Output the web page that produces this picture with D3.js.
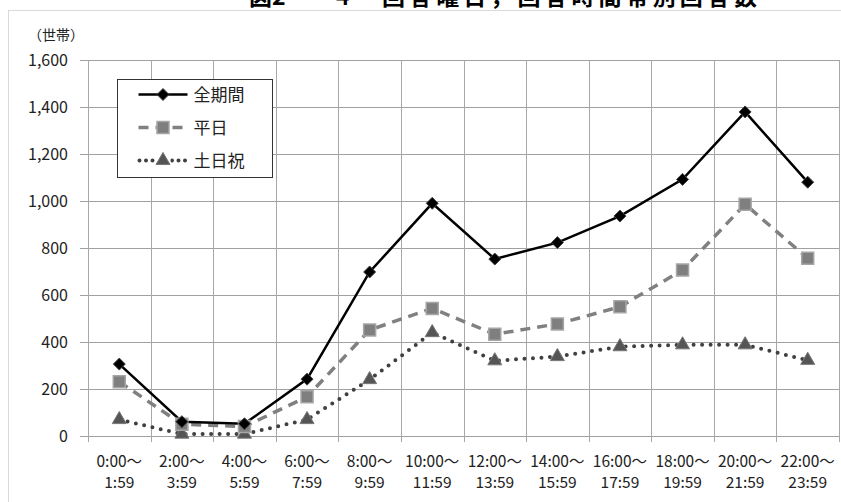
<!DOCTYPE html>
<html>
<head>
<meta charset="utf-8">
<script src="https://cdn.jsdelivr.net/npm/d3@7"></script>
<style>
  body { margin: 0; background: #fff; }
  svg text { font-family: "Noto Sans CJK JP", "Noto Sans", sans-serif; }
</style>
</head>
<body>
<div id="chart"></div>
<script>
// 回答時間帯別回答数
const categories = ['0:00～|1:59', '2:00～|3:59', '4:00～|5:59', '6:00～|7:59', '8:00～|9:59', '10:00～|11:59',
  '12:00～|13:59', '14:00～|15:59', '16:00～|17:59', '18:00～|19:59', '20:00～|21:59', '22:00～|23:59'];
const allDays = [306, 61, 52, 242, 698, 990, 753, 823, 936, 1092, 1379, 1080];
const weekdays = [231, 50, 40, 167, 451, 543, 433, 477, 550, 706, 986, 756];
const holidays = [70, 8, 8, 70, 240, 440, 320, 338, 380, 388, 388, 322];
const yTicks = [0, 200, 400, 600, 800, 1000, 1200, 1400, 1600];
const seriesNames = ['全期間', '平日', '土日祝'];

const W = 841, H = 502;
const margin = { top: 60, left: 88, right: 2, bottom: 66 };
const plotW = W - margin.left - margin.right;
const plotH = H - margin.top - margin.bottom;

const svg = d3.select('#chart').append('svg')
  .attr('width', W).attr('height', H);

// title (cut off at top)
const title = svg.append('text')
  .attr('y', 5)
  .style('font-size', '23px').style('font-weight', 'bold');
title.append('tspan').attr('x', 249).text('図2');
title.append('tspan').attr('x', 308).text('－');
title.append('tspan').attr('x', 336).text('4');
title.append('tspan').attr('x', 382).attr('textLength', 375).attr('lengthAdjust', 'spacing')
  .text('回答曜日，回答時間帯別回答数');

// outer frame
svg.append('rect')
  .attr('x', 8.5).attr('y', 10.5)
  .attr('width', W).attr('height', H)
  .attr('fill', 'none').attr('stroke', '#d9d9d9');

const g = svg.append('g').attr('transform', `translate(${margin.left},${margin.top})`);

const x = d3.scaleBand().domain(categories).range([0, plotW]);
const y = d3.scaleLinear().domain([0, 1600]).range([plotH, 0]);

// horizontal grid
g.append('g').selectAll('line').data(yTicks).join('line')
  .attr('x1', -8).attr('x2', plotW)
  .attr('y1', d => Math.round(y(d)) + 0.5).attr('y2', d => Math.round(y(d)) + 0.5)
  .attr('stroke', '#a0a0a0');

// vertical grid
const vx = categories.map(c => x(c)).concat([plotW]);
g.append('g').selectAll('line').data(vx).join('line')
  .attr('x1', d => Math.round(d) + 0.5).attr('x2', d => Math.round(d) + 0.5)
  .attr('y1', 0).attr('y2', plotH + 6)
  .attr('stroke', '#a8a8a8');

// y labels
g.append('g').selectAll('text').data(yTicks).join('text')
  .attr('x', -20).attr('y', d => y(d) + 5.5)
  .attr('text-anchor', 'end')
  .style('font-size', '16px').attr('fill', '#222')
  .text(d => d3.format(',')(d));

svg.append('text')
  .attr('x', 28).attr('y', 40)
  .style('font-size', '14px').attr('fill', '#222')
  .text('（世帯）');

// x labels (two lines each)
[0, 1].forEach(k => {
  g.append('g').selectAll('text').data(categories).join('text')
    .attr('x', d => x(d) + x.bandwidth() / 2)
    .attr('y', plotH + 31 + k * 21)
    .attr('text-anchor', 'middle')
    .style('font-size', '15.5px').attr('fill', '#222')
    .text(d => d.split('|')[k]);
});

const cx = i => x(categories[i]) + x.bandwidth() / 2;
const line = d3.line().x((d, i) => cx(i)).y(d => y(d));

// 土日祝
g.append('path').datum(holidays).attr('d', line)
  .attr('fill', 'none').attr('stroke', '#404040').attr('stroke-width', 4)
  .attr('stroke-linecap', 'round').attr('stroke-dasharray', '0,8.5');
// 平日
g.append('path').datum(weekdays).attr('d', line)
  .attr('fill', 'none').attr('stroke', '#808080').attr('stroke-width', 3.5)
  .attr('stroke-dasharray', '10,7');
// 全期間
g.append('path').datum(allDays).attr('d', line)
  .attr('fill', 'none').attr('stroke', '#000').attr('stroke-width', 2.5);

const tri = d3.symbol().type(d3.symbolTriangle).size(85);
const sq = d3.symbol().type(d3.symbolSquare).size(144);
const dia = 'M0,-6L6,0L0,6L-6,0Z';

g.append('g').selectAll('path').data(holidays).join('path')
  .attr('transform', (d, i) => `translate(${cx(i)},${y(d)})`)
  .attr('d', tri).attr('fill', '#555').attr('stroke', '#777').attr('stroke-width', 1);
g.append('g').selectAll('path').data(weekdays).join('path')
  .attr('transform', (d, i) => `translate(${cx(i)},${y(d)})`)
  .attr('d', sq).attr('fill', '#7f7f7f').attr('stroke', '#a6a6a6').attr('stroke-width', 1.5);
g.append('g').selectAll('path').data(allDays).join('path')
  .attr('transform', (d, i) => `translate(${cx(i)},${y(d)})`)
  .attr('d', dia).attr('fill', '#000').attr('stroke', '#444').attr('stroke-width', 1);

// legend
const lg = svg.append('g').attr('transform', 'translate(117.5,79.5)');
lg.append('rect').attr('width', 155).attr('height', 98)
  .attr('fill', '#fff').attr('stroke', '#333');
const rows = [15, 48, 81];
const ly = d3.line();
// 全期間
lg.append('path').attr('d', ly([[21, rows[0]], [70, rows[0]]]))
  .attr('stroke', '#000').attr('stroke-width', 2.5);
lg.append('path').attr('transform', `translate(45.5,${rows[0]})`).attr('d', dia)
  .attr('fill', '#000').attr('stroke', '#444');
// 平日
lg.append('path').attr('d', ly([[21, rows[1]], [70, rows[1]]]))
  .attr('stroke', '#808080').attr('stroke-width', 3.5).attr('stroke-dasharray', '10,7');
lg.append('path').attr('transform', `translate(45.5,${rows[1]})`).attr('d', sq)
  .attr('fill', '#7f7f7f').attr('stroke', '#a6a6a6').attr('stroke-width', 1.5);
// 土日祝
lg.append('path').attr('d', ly([[22, rows[2]], [70, rows[2]]]))
  .attr('stroke', '#404040').attr('stroke-width', 4).attr('stroke-linecap', 'round')
  .attr('stroke-dasharray', '0,6.5');
lg.append('rect').attr('x', 38).attr('y', rows[2] - 7).attr('width', 15).attr('height', 14).attr('fill', '#fff');
lg.append('path').attr('transform', `translate(45.5,${rows[2]})`).attr('d', tri)
  .attr('fill', '#555').attr('stroke', '#777');

lg.selectAll('text.lbl').data(seriesNames).join('text')
  .attr('class', 'lbl')
  .attr('x', 76).attr('y', (d, i) => rows[i] + 6)
  .style('font-size', '17px').attr('fill', '#222')
  .text(d => d);
</script>
</body>
</html>
